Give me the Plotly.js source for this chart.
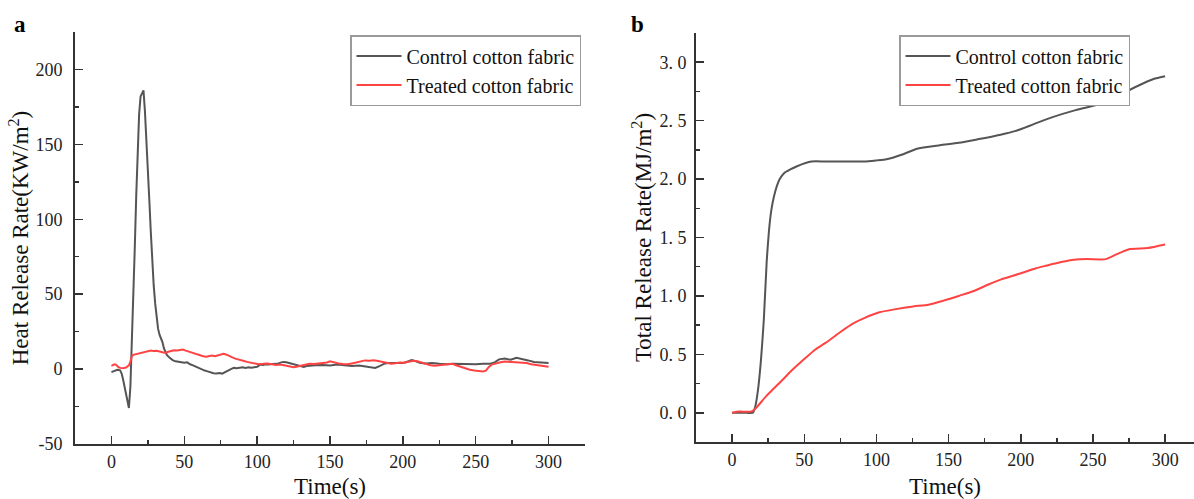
<!DOCTYPE html>
<html>
<head>
<meta charset="utf-8">
<script src="https://cdn.plot.ly/plotly-3.0.1.min.js"></script>
<style>
  html, body { margin: 0; padding: 0; background: #fff; }
  #chart { width: 1194px; height: 499px; }
</style>
</head>
<body>
<div id="chart"></div>
<script>
// ---------- Panel a: Heat Release Rate ----------
const hrrControlT = [0,2,4,6,7,8,9,10,11,12,13,14,15,16,17,18,19,20,21,22,23,24,25,26,27,28,29,30,31,32,33,34,35,36,37,38,40,42,44,46,48,50,52,54,56,58,60,62,64,66,68,70,72,74,76,78,80,82,84,86,88,90,92,94,96,98,100,102,104,106,108,110,112,114,116,118,120,122,124,126,128,130,132,134,136,138,140,145,150,155,160,165,170,175,178,181,184,187,190,195,200,203,206,209,212,216,220,225,230,235,240,245,250,255,260,263,266,270,274,278,282,286,290,295,300];
const hrrControl = [-2,-1.5,-0.5,-0.8,-3,-7,-12,-18,-23,-26,-12,15,45,80,115,148,170,182,184,186,172,155,135,113,92,72,56,44,35,27,23,21,18,14,11.5,9.5,7.5,6,5.2,4.8,4.5,4.2,4.5,3.2,2.5,1.5,0.5,-0.5,-1,-1.5,-2.3,-2.8,-3,-2.6,-3,-2.2,-1,0,0.8,0.5,1,1.2,0.8,1.2,0.9,1.4,1.5,3,2.8,3.2,3,3.4,3.6,3.5,4.3,4.8,4.5,4,3.6,3,2.4,1.6,1.4,2,2.2,2.6,2.5,2.7,2.4,3,2.6,2,2.4,1.5,1,0.8,2,3.5,4,4.2,4,5,6,5.2,4,3.8,4,3.5,3.2,3.6,3.4,3.1,3.3,3.5,3.6,4.5,6.5,7,6.2,7.5,6.8,5.8,4.8,4.2,4];

const hrrTreatedT = [0,1,2,3,4,5,6,8,10,11,12,13,14,15,17,19,21,23,25,27,29,31,33,35,37,39,41,43,45,47,49,51,53,55,57,59,61,63,65,67,69,71,73,75,77,79,81,83,85,87,89,91,93,95,97,99,101,104,107,110,113,116,119,122,125,127,130,133,136,139,142,145,148,150,153,156,159,162,165,168,171,174,177,180,183,186,189,192,195,198,201,204,207,210,213,216,219,222,225,228,231,234,237,240,243,246,249,252,255,257,259,261,264,267,270,273,276,279,282,285,288,291,294,297,300];
const hrrTreated = [2.2,2.8,3.2,3,2,1.2,0.8,0.6,1,1.5,2.5,5,8.5,9.5,10,10.5,11,11.3,12,12.4,12,12.2,11.8,11.3,10.8,11.6,12.3,12.5,12.4,12.8,13,12.3,11.6,11,10.5,10,9.3,8.6,8.2,8.8,9,8.6,9.2,9.4,10.2,9.6,8.5,7.8,7,6.6,6,5.4,4.8,4.4,4,3.6,3.3,3.5,3.8,3.3,2.8,3,2.5,1.8,1.2,1.5,2.3,3.2,3.6,3.4,3.8,4.2,4.4,5.2,4.4,3.8,3.4,3.2,3.8,4.6,5.4,5.8,5.6,5.9,5.4,4.8,4,3.6,3.9,4.4,4.2,4.8,5.5,5.2,4.2,3.4,2.6,2.2,2.6,3,3.6,3.5,2.4,1.4,0.6,-0.4,-1,-1.4,-1.6,-1,1.5,3,4,4.6,5,4.8,4.6,4.4,4.6,4,3.2,2.8,2.4,2.2,1.6];

const hrrTickVals = [-50,0,50,100,150,200];
const hrrTickText = ["-50","0","50","100","150","200"];

// ---------- Panel b: Total Release Rate ----------
const thrControlT = [0,5,10,14.4,16,18,20,22,24,25.5,27,29,31,33,36,40,45,55,65,80,91.5,100,107,118,128,144,157,170,186,196,209,222,238,254,265,275,285,293,300];
const thrControl = [0,0,0,0,0.05,0.2,0.45,0.8,1.3,1.55,1.72,1.85,1.94,2.0,2.05,2.08,2.11,2.15,2.15,2.15,2.15,2.16,2.17,2.21,2.26,2.29,2.31,2.34,2.38,2.41,2.47,2.53,2.59,2.64,2.69,2.76,2.82,2.86,2.88];

const thrTreatedT = [0,5,13,15.7,23.5,34,42,50,57.5,65,76,84,91.5,102,112.5,125.6,136,146.5,157,167,178,186,199,210,218,228,237,246,259,267,275,288,300];
const thrTreated = [0,0.01,0.01,0.03,0.14,0.27,0.37,0.46,0.54,0.6,0.7,0.765,0.81,0.86,0.885,0.91,0.925,0.96,1.0,1.04,1.1,1.14,1.19,1.235,1.26,1.29,1.31,1.315,1.315,1.36,1.4,1.41,1.44];

const thrTickVals = [0,0.5,1,1.5,2,2.5,3];
const thrTickText = ["0. 0","0. 5","1. 0","1. 5","2. 0","2. 5","3. 0"];

const seriesNames = ["Control cotton fabric","Treated cotton fabric"];
const seriesColors = ["#555555","#ff4343"];

// ---------- Layout helpers ----------
const W = 1194, H = 499;
const FONT = "Liberation Serif";
function axisCommon() {
  return {
    showline: true, linecolor: "#333", linewidth: 2, mirror: false,
    ticks: "inside", ticklen: 8, tickwidth: 1.5, tickcolor: "#333",
    showgrid: false, zeroline: false, automargin: false,
    tickfont: {family: FONT, size: 18, color: "#222"}
  };
}
function minorTicks(step) {
  return {ticks: "inside", ticklen: 4, tickwidth: 1.5, tickcolor: "#333", tick0: 0, dtick: step, showgrid: false};
}

const traces = [
  {x: hrrControlT, y: hrrControl, type: "scatter", mode: "lines", name: seriesNames[0],
   line: {color: seriesColors[0], width: 2}, xaxis: "x", yaxis: "y", legend: "legend"},
  {x: hrrTreatedT, y: hrrTreated, type: "scatter", mode: "lines", name: seriesNames[1],
   line: {color: seriesColors[1], width: 2}, xaxis: "x", yaxis: "y", legend: "legend"},
  {x: thrControlT, y: thrControl, type: "scatter", mode: "lines", name: seriesNames[0],
   line: {color: seriesColors[0], width: 2, shape: "spline", smoothing: 0.6}, xaxis: "x2", yaxis: "y2", legend: "legend2"},
  {x: thrTreatedT, y: thrTreated, type: "scatter", mode: "lines", name: seriesNames[1],
   line: {color: seriesColors[1], width: 2, shape: "spline", smoothing: 0.6}, xaxis: "x2", yaxis: "y2", legend: "legend2"}
];

function legendCommon() {
  return {
    bgcolor: "#ffffff", bordercolor: "#9a9a9a", borderwidth: 1.5,
    font: {family: FONT, size: 20, color: "#111"},
    xanchor: "right", yanchor: "top", tracegroupgap: 0, itemwidth: 45
  };
}

const layout = {
  width: W, height: H,
  margin: {l: 0, r: 0, t: 0, b: 0},
  paper_bgcolor: "#fff", plot_bgcolor: "#fff",
  font: {family: FONT, color: "#111"},
  showlegend: true,
  xaxis: Object.assign(axisCommon(), {
    domain: [75 / W, 585 / W], range: [-25, 325], anchor: "y",
    tick0: 0, dtick: 50, minor: minorTicks(25),
    title: {text: "Time(s)", font: {family: FONT, size: 23, color: "#111"}, standoff: 11}
  }),
  yaxis: Object.assign(axisCommon(), {
    domain: [(H - 444) / H, (H - 32) / H], range: [-50, 225], anchor: "x",
    tickmode: "array", tickvals: hrrTickVals, ticktext: hrrTickText,
    ticklabelstandoff: 7, minor: minorTicks(25),
    title: {text: "Heat Release Rate(KW/m<sup>2</sup>)", font: {family: FONT, size: 23, color: "#111"}, standoff: 0}
  }),
  xaxis2: Object.assign(axisCommon(), {
    domain: [696 / W, 1], range: [-25, 320], anchor: "y2",
    tick0: 0, dtick: 50, minor: minorTicks(25),
    title: {text: "Time(s)", font: {family: FONT, size: 23, color: "#111"}, standoff: 10}
  }),
  yaxis2: Object.assign(axisCommon(), {
    domain: [(H - 442) / H, (H - 33) / H], range: [-0.25, 3.25], anchor: "x2",
    tickmode: "array", tickvals: thrTickVals, ticktext: thrTickText,
    ticklabelstandoff: 4, minor: minorTicks(0.25),
    title: {text: "Total Release Rate(MJ/m<sup>2</sup>)", font: {family: FONT, size: 23, color: "#111"}, standoff: 1}
  }),
  legend: Object.assign(legendCommon(), {x: 581 / W, y: 1 - 35 / H}),
  legend2: Object.assign(legendCommon(), {x: 1130 / W, y: 1 - 35 / H}),
  annotations: [
    {text: "<b>a</b>", xref: "paper", yref: "paper", x: 12 / W, y: 1 - 10 / H, xanchor: "left", yanchor: "top",
     showarrow: false, font: {family: FONT, size: 23, color: "#000"}},
    {text: "<b>b</b>", xref: "paper", yref: "paper", x: 629 / W, y: 1 - 10 / H, xanchor: "left", yanchor: "top",
     showarrow: false, font: {family: FONT, size: 23, color: "#000"}}
  ]
};

Plotly.newPlot("chart", traces, layout, {displayModeBar: false, staticPlot: true});
</script>
</body>
</html>
